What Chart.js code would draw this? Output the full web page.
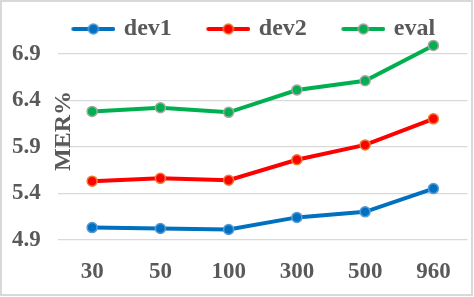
<!DOCTYPE html>
<html>
<head>
<meta charset="utf-8">
<script src="https://cdn.jsdelivr.net/npm/chart.js@4.4.1/dist/chart.umd.min.js"></script>
<style>
  html, body { margin: 0; padding: 0; background: #fff; }
  #wrap { position: relative; width: 474px; height: 297px; }
  #frame { position: absolute; left: 0; top: 0; width: 473px; height: 296px; border: 2px solid #d9d9d9; box-sizing: border-box; pointer-events: none; }
</style>
</head>
<body>
<div id="wrap">
  <canvas id="chart" width="474" height="297"></canvas>
  <div id="frame"></div>
</div>
<script>
const categories = ['30', '50', '100', '300', '500', '960'];
const dev1 = [5.03, 5.02, 5.01, 5.14, 5.20, 5.45];
const dev2 = [5.53, 5.56, 5.54, 5.76, 5.92, 6.20];
const evalSet = [6.28, 6.32, 6.27, 6.51, 6.61, 6.99];
const yTicks = [4.9, 5.4, 5.9, 6.4, 6.9];

const FONT = '"Liberation Serif", "Times New Roman", serif';
const TEXT_COLOR = '#595959';

// legend marker: line with a dot, drawn into a small canvas
function legendMarker(lineColor, fill, border) {
    const c = document.createElement('canvas');
    c.width = 72; c.height = 16;
    const g = c.getContext('2d');
    g.strokeStyle = lineColor;
    g.lineWidth = 4;
    g.lineCap = 'round';
    g.beginPath(); g.moveTo(30, 8); g.lineTo(70, 8); g.stroke();
    g.beginPath(); g.arc(50, 8, 5, 0, Math.PI * 2);
    g.fillStyle = fill; g.fill();
    g.lineWidth = 1.5; g.strokeStyle = border; g.stroke();
    return c;
}

const series = [
    { label: 'dev1', data: dev1, line: '#0070C0', fill: '#0070C0', border: '#5B9BD5' },
    { label: 'dev2', data: dev2, line: '#FF0000', fill: '#FF0000', border: '#ED7D31' },
    { label: 'eval', data: evalSet, line: '#00B050', fill: '#00B050', border: '#A5A5A5' }
];

// y axis title sits inside the plot's left edge, like the original
const yTitle = {
    id: 'yTitle',
    afterDraw(chart) {
        const { ctx, chartArea } = chart;
        ctx.save();
        ctx.translate(chartArea.left + 12, chartArea.top + 80);
        ctx.rotate(-Math.PI / 2);
        ctx.font = 'bold 24px ' + FONT;
        ctx.fillStyle = TEXT_COLOR;
        ctx.textAlign = 'center';
        ctx.textBaseline = 'alphabetic';
        ctx.fillText('MER%', 0, 0);
        ctx.restore();
    }
};

new Chart(document.getElementById('chart'), {
    type: 'line',
    data: {
        labels: categories,
        datasets: series.map(s => ({
            label: s.label,
            data: s.data,
            borderColor: s.line,
            backgroundColor: s.fill,
            borderWidth: 4,
            pointRadius: 5,
            pointBorderWidth: 1.5,
            pointBackgroundColor: s.fill,
            pointBorderColor: s.border,
            tension: 0,
            clip: false,
            marker: legendMarker(s.line, s.fill, s.border)
        }))
    },
    options: {
        responsive: false,
        animation: false,
        layout: { padding: { left: 12, right: 4, top: 7, bottom: 9.5 } },
        plugins: {
            legend: {
                position: 'top',
                labels: {
                    usePointStyle: true,
                    pointStyleWidth: 65,
                    padding: 10,
                    color: TEXT_COLOR,
                    font: { family: FONT, size: 24, weight: 'bold' },
                    generateLabels(chart) {
                        return chart.data.datasets.map((ds, i) => ({
                            text: ds.label,
                            pointStyle: ds.marker,
                            lineWidth: 0,
                            fontColor: TEXT_COLOR,
                            hidden: false,
                            datasetIndex: i
                        }));
                    }
                }
            },
            tooltip: { enabled: false }
        },
        scales: {
            x: {
                offset: true,
                afterFit(axis) { axis.height = 47.8; },
                grid: { display: false, drawTicks: false },
                border: { display: false },
                ticks: { color: TEXT_COLOR, padding: 19, font: { family: FONT, size: 23, weight: 'bold' } }
            },
            y: {
                min: 4.9,
                max: 6.93,
                afterBuildTicks(axis) { axis.ticks = yTicks.map(v => ({ value: v })); },
                afterFit(axis) { axis.width = 46; },
                grid: { color: '#d9d9d9', lineWidth: 1.3, drawTicks: false },
                border: { display: false },
                ticks: {
                    color: TEXT_COLOR,
                    crossAlign: 'far',
                    padding: 17,
                    font: { family: FONT, size: 23, weight: 'bold' },
                    callback: v => Number(v).toFixed(1)
                }
            }
        }
    },
    plugins: [yTitle]
});
</script>
</body>
</html>
